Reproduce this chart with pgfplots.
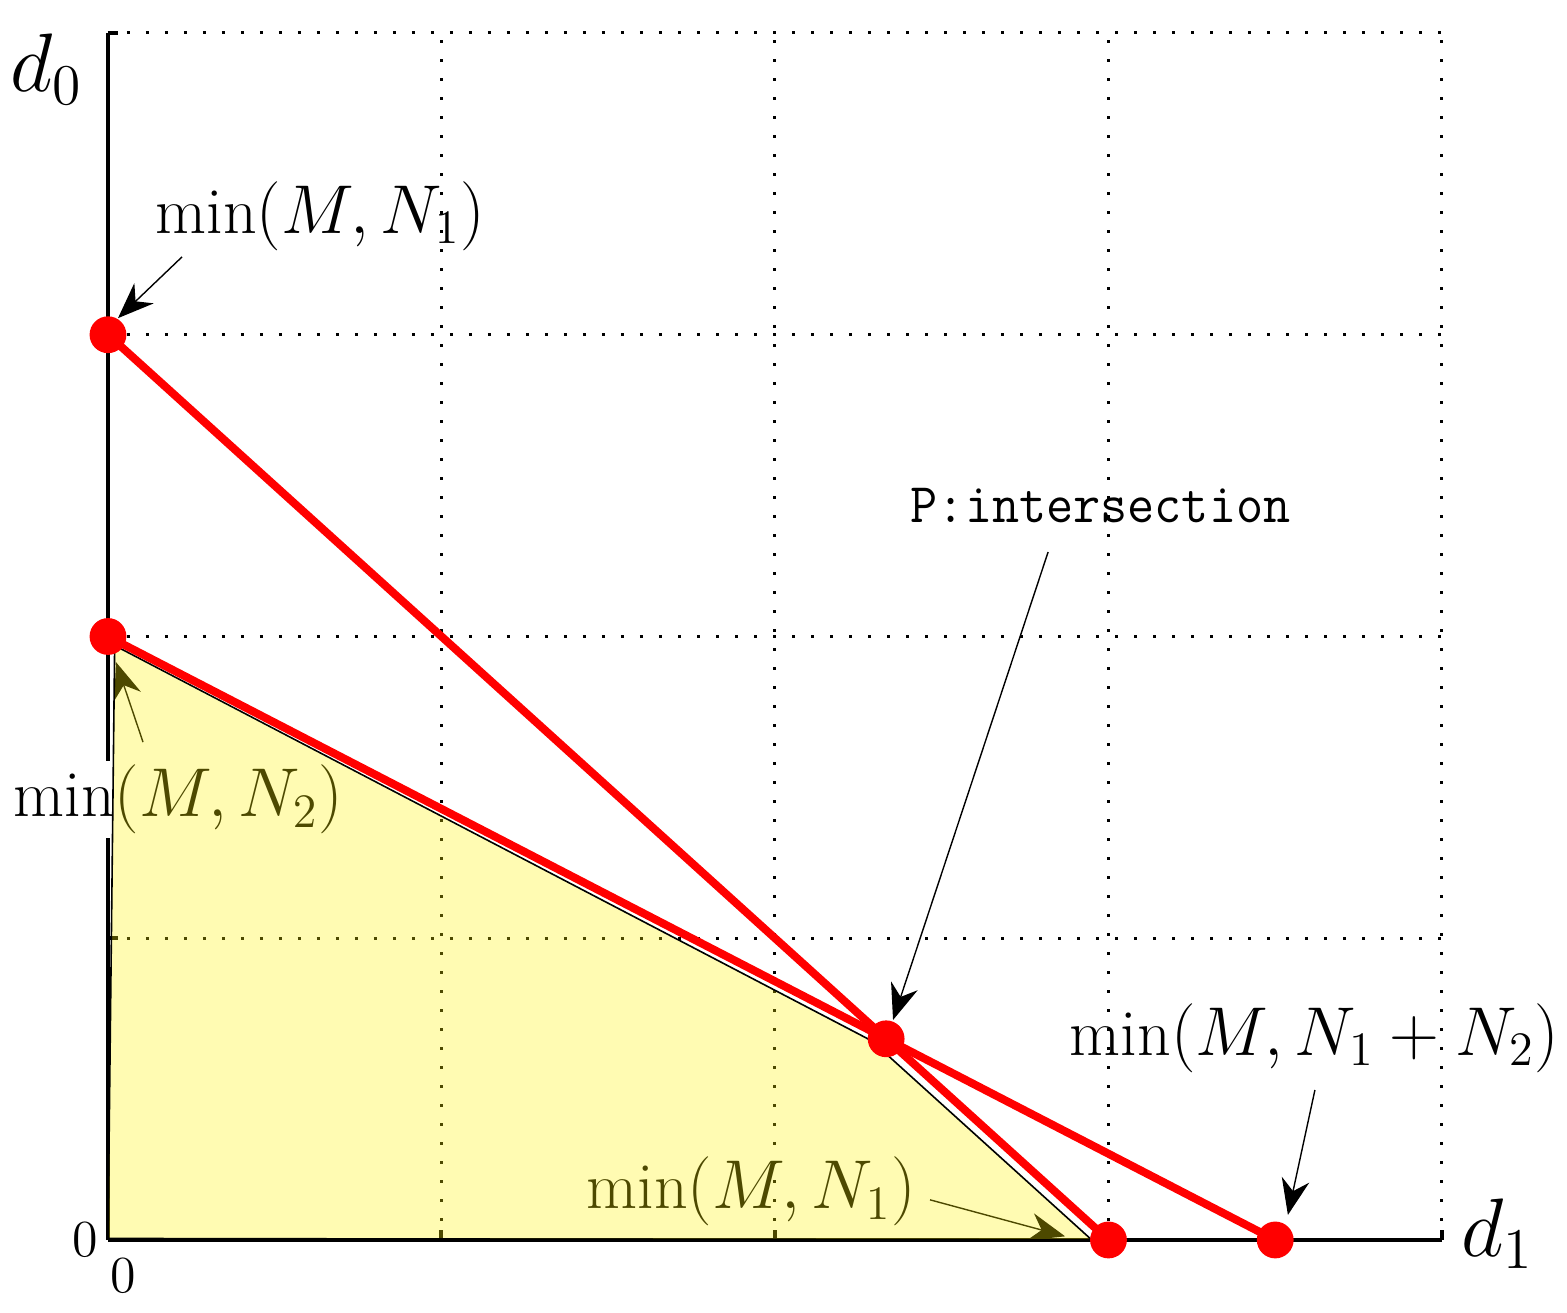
\documentclass[border=0pt]{standalone}
\usepackage{fontspec}
\usepackage{pgfplots}
\pgfplotsset{compat=1.18}
\usetikzlibrary{arrows.meta}
\newfontfamily\monofont[FakeStretch=0.94]{Latin Modern Mono}
\newcommand{\bigf}{\fontsize{16.5}{20}\selectfont}
\begin{document}
\begin{tikzpicture}
\begin{axis}[
  scale only axis,
  width=333.5pt, height=301.75pt,
  xmin=0, xmax=4, ymin=0, ymax=4,
  axis x line=bottom, axis y line=left,
  axis line style={-, line width=1pt, black},
  xtick={0,1,2,3,4}, ytick={0,1,2,3,4},
  xticklabels={0,{},{},{},{}}, yticklabels={0,{},{},{},{}},
  tick align=inside,
  major tick length=2.5pt,
  tick style={line width=1pt, black},
  ticklabel style={font=\fontsize{13}{15}\selectfont},
  xticklabel style={xshift=3.75pt, yshift=-1pt},
  yticklabel style={xshift=1pt},
  grid=major,
  major grid style={black, line width=0.75pt, dash pattern=on 0.75pt off 4pt},
  clip=false,
]
% annotations (below the shaded area)
\node[anchor=base west, inner sep=0pt, font=\bigf] at (axis cs:0.141,3.337) {$\min(M,N_1)$};
\draw[-{Stealth[length=9pt,width=7pt]}, line width=0.35pt] (axis cs:0.222,3.258) -- (axis cs:0.03,3.055);
\node[anchor=base west, inner sep=1pt, fill=white, font=\bigf] at (axis cs:-0.297,1.402) {$\min(M,N_2)$};
\draw[-{Stealth[length=9pt,width=7pt]}, line width=0.35pt] (axis cs:0.105,1.650) -- (axis cs:0.024,1.915);
\node[anchor=base west, inner sep=0pt, font=\bigf] at (axis cs:1.433,0.103) {$\min(M,N_1)$};
\draw[-{Stealth[length=9pt,width=7pt]}, line width=0.35pt] (axis cs:2.465,0.133) -- (axis cs:2.870,0.012);
\node[anchor=base west, inner sep=0pt, font=\fontsize{14}{16}\monofont] at (axis cs:2.405,2.379) {P:intersection};
\draw[-{Stealth[length=9pt,width=7pt]}, line width=0.35pt] (axis cs:2.819,2.28) -- (axis cs:2.354,0.729);
\node[anchor=base west, inner sep=0pt, font=\bigf] at (axis cs:2.882,0.613) {$\min(M,N_1+N_2)$};
\draw[-{Stealth[length=9pt,width=7pt]}, line width=0.35pt] (axis cs:3.619,0.497) -- (axis cs:3.538,0.083);
\node[font=\fontsize{20}{24}\selectfont] at (axis cs:-0.185,3.88) {$d_0$};
\node[font=\fontsize{20}{24}\selectfont] at (axis cs:4.167,0.02) {$d_1$};
% shaded region
\addplot[fill=yellow, fill opacity=0.3, draw=black, line width=0.4pt] coordinates {
  (0,0.005) (0.02,1.97) (2.29,0.66) (2.95,0) (0,0.005)} -- cycle;
% red lines
\addplot[red, line width=2pt] coordinates {(0,3) (3,0)};
\addplot[red, line width=2pt] coordinates {(0,2) (3.5,0)};
\addplot[only marks, mark=*, mark size=4.4pt, red, mark options={draw=red, fill=red}] coordinates {
  (0,3) (0,2) (2.3333,0.6667) (3,0) (3.5,0)};
\end{axis}
\pgfresetboundingbox
\path (-27pt,-18.25pt) rectangle (364.75pt,310pt);
\end{tikzpicture}
\end{document}
